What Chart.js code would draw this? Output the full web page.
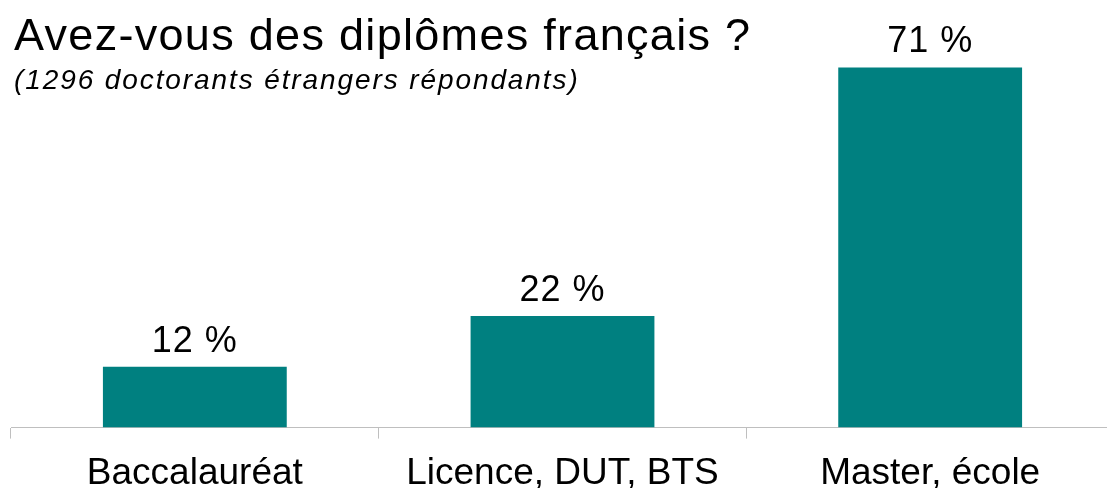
<!DOCTYPE html>
<html lang="fr">
<head>
    <meta charset="UTF-8">
    <title>Avez-vous des diplômes français ?</title>
    <script src="https://cdn.jsdelivr.net/npm/chart.js"></script>
    <style>
        html, body {
            margin: 0;
            padding: 0;
            background: #ffffff;
            overflow: hidden;
        }
        .wrap {
            position: relative;
            width: 1107px;
            height: 488px;
            overflow: hidden;
            font-family: "Liberation Sans", Arial, sans-serif;
        }
        canvas {
            position: absolute;
            left: 0;
            top: 0;
        }
        .title {
            position: absolute;
            left: 14px;
            top: 12px;
            font-size: 45px;
            line-height: 45px;
            letter-spacing: 1.3px;
            color: #000;
            white-space: nowrap;
        }
        .subtitle {
            position: absolute;
            left: 14px;
            top: 66px;
            font-size: 28px;
            line-height: 28px;
            letter-spacing: 1.9px;
            font-style: italic;
            color: #000;
            white-space: nowrap;
        }
    </style>
</head>
<body>

<div class="wrap">
    <canvas id="chart" width="1114" height="513"></canvas>
    <div class="title">Avez-vous des diplômes français ?</div>
    <div class="subtitle">(1296 doctorants étrangers répondants)</div>
</div>

<script>
    const categories = ['Baccalauréat', 'Licence, DUT, BTS', 'Master, école'];
    const percents = [12, 22, 71];

    // labels "xx %" au-dessus des barres
    const valueLabels = {
        id: 'valueLabels',
        afterDatasetsDraw(chart) {
            const ctx = chart.ctx;
            const meta = chart.getDatasetMeta(0);
            ctx.save();
            ctx.font = '36px "Liberation Sans", Arial, sans-serif';
            ctx.letterSpacing = '1px';
            ctx.fillStyle = '#000';
            ctx.textAlign = 'center';
            ctx.textBaseline = 'alphabetic';
            meta.data.forEach((bar, i) => {
                ctx.fillText(percents[i] + ' %', bar.x, bar.y - 15);
            });
            ctx.restore();
        }
    };

    new Chart(document.getElementById('chart'), {
        type: 'bar',
        data: {
            labels: categories,
            datasets: [{
                data: percents,
                backgroundColor: '#008080',
                barPercentage: 0.5,
                categoryPercentage: 1.0
            }]
        },
        options: {
            responsive: false,
            animation: false,
            layout: {
                padding: { left: 11, right: 0, top: 37, bottom: 4 }
            },
            plugins: {
                legend: { display: false },
                tooltip: { enabled: false }
            },
            scales: {
                y: {
                    display: false,
                    min: 0,
                    max: 77
                },
                x: {
                    grid: {
                        offset: true,
                        drawOnChartArea: false,
                        drawTicks: true,
                        tickLength: 11,
                        color: '#bfbfbf'
                    },
                    border: {
                        color: '#bfbfbf',
                        width: 1
                    },
                    ticks: {
                        color: '#000',
                        padding: 13,
                        maxRotation: 0,
                        font: { family: '"Liberation Sans", Arial, sans-serif', size: 37 }
                    }
                }
            }
        },
        plugins: [valueLabels]
    });
</script>

</body>
</html>
